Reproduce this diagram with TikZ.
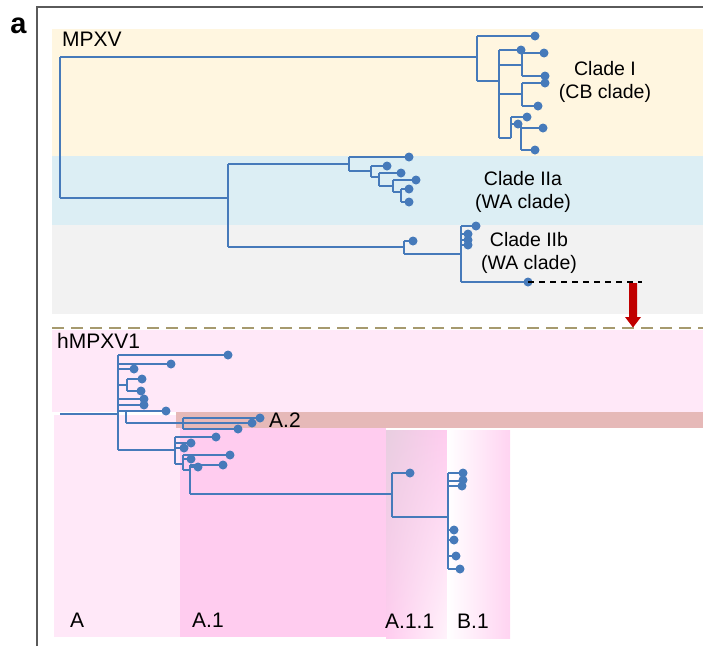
\documentclass[tikz,border=0pt]{standalone}
\usepackage{fontspec}
\setmainfont{Liberation Sans}
\usetikzlibrary{shadings}
\definecolor{treeblue}{RGB}{70,122,186}
\definecolor{creamc}{RGB}{255,246,224}
\definecolor{lbluec}{RGB}{220,238,244}
\definecolor{lgrayc}{RGB}{242,242,242}
\definecolor{pinkAc}{RGB}{255,232,248}
\definecolor{pinkAonec}{RGB}{255,204,239}
\definecolor{atwoc}{RGB}{230,185,184}
\definecolor{grpinkc}{RGB}{232,206,224}
\definecolor{palepinkc}{RGB}{255,243,251}
\definecolor{tanc}{RGB}{166,154,110}
\definecolor{framec}{RGB}{90,90,90}
\definecolor{arrowred}{RGB}{192,0,0}
\newcommand\lf[2]{\fill[treeblue] (#1,#2) circle[radius=4.5];}
\begin{document}
\begin{tikzpicture}[x=1pt,y=-1pt,
  br/.style={draw=treeblue,line width=2.5pt},
  cladelbl/.style={font=\fontsize{19.5}{23}\selectfont,align=center,inner sep=0pt,anchor=base},
  reglbl/.style={font=\fontsize{21}{25}\selectfont,inner sep=0pt,anchor=base west}]
\useasboundingbox (0,0) rectangle (703,646);
% backgrounds
\fill[creamc] (52,29) rectangle (703,156);
\fill[lbluec] (52,156) rectangle (703,225);
\fill[lgrayc] (52,225) rectangle (703,314);
\fill[pinkAc] (52,330) rectangle (703,412);
\fill[pinkAc] (54,414.5) rectangle (180,637);
\fill[atwoc] (176,412) rectangle (703,428);
\fill[pinkAonec] (180,428) rectangle (386,637);
\shade[upper left=grpinkc,upper right=pinkAonec,lower left=pinkAonec,lower right=palepinkc] (386,430) rectangle (447,638);
\shade[left color=white,right color=pinkAonec!85!white] (447,430) rectangle (510,638);
% frame
\draw[framec,line width=1.8pt] (37,646) -- (37,7) -- (703,7);
\node[font=\fontsize{29}{30}\bfseries\selectfont,inner sep=0pt,anchor=base] (lbla) at (18.5,33) {a};
% separator
\draw[tanc,line width=2.2pt,dash pattern=on 12pt off 7pt] (52,328) -- (703,328);
% ---------- MPXV tree ----------
\draw[br] (60,57) -- (60,198);
\draw[br] (60,57) -- (477,57);
\draw[br] (477,36) -- (477,81);
\draw[br] (477,36) -- (535,36); \lf{535}{36}
\draw[br] (477,81) -- (499,81);
\draw[br] (499,50) -- (499,138);
\draw[br] (499,50) -- (521,50); \lf{521}{50}
\draw[br] (499,65) -- (522,65);
\draw[br] (522,50) -- (522,76);
\draw[br] (522,53) -- (544,53); \lf{544}{53}
\draw[br] (522,76) -- (545,76); \lf{545}{76}
\draw[br] (499,94) -- (522,94);
\draw[br] (522,83) -- (522,106);
\draw[br] (522,83) -- (545,83); \lf{545}{83}
\draw[br] (522,106) -- (538,106); \lf{538}{106}
\draw[br] (499,138) -- (511,138);
\draw[br] (511,117) -- (511,138);
\draw[br] (511,117) -- (527,117); \lf{527}{117}
\draw[br] (511,124) -- (521,124); \lf{518}{124}
\draw[br] (521,124) -- (521,150);
\draw[br] (521,128) -- (543,128); \lf{543}{128}
\draw[br] (521,150) -- (535,150); \lf{535}{150}
% clade II
\draw[br] (60,198) -- (228,198);
\draw[br] (228,164) -- (228,247);
\draw[br] (228,164) -- (349,164);
\draw[br] (349,157) -- (349,171);
\draw[br] (349,157) -- (409,157); \lf{409}{157}
\draw[br] (349,171) -- (371,171);
\draw[br] (371,166) -- (371,177);
\draw[br] (371,166) -- (387,166); \lf{387}{166}
\draw[br] (371,177) -- (379,177);
\draw[br] (379,173) -- (379,186);
\draw[br] (379,173) -- (401,173); \lf{401}{173}
\draw[br] (379,186) -- (393,186);
\draw[br] (393,180) -- (393,192);
\draw[br] (393,180) -- (416,180); \lf{416}{180}
\draw[br] (393,192) -- (401,192);
\draw[br] (401,189) -- (401,202);
\draw[br] (401,189) -- (409,189); \lf{409}{189}
\draw[br] (401,202) -- (409,202); \lf{409}{202}
% clade IIb
\draw[br] (228,247) -- (404,247);
\draw[br] (404,241) -- (404,254);
\draw[br] (404,241) -- (413,241); \lf{413}{241}
\draw[br] (404,254) -- (461,254);
\draw[br] (461,226) -- (461,282);
\draw[br] (461,226) -- (476,226); \lf{476}{226}
\draw[br] (461,234) -- (468,234); \lf{468}{234}
\draw[br] (461,240) -- (468,240); \lf{468}{240}
\draw[br] (461,245) -- (468,245); \lf{468}{245}
\draw[br] (461,282) -- (528,282); \lf{528}{282}
\coordinate (dashA) at (528,282);
\coordinate (dashB) at (642,282);
\draw[black,line width=1.6pt,dash pattern=on 6pt off 5pt] (dashA) -- (dashB);
\fill[arrowred] (629,283) -- (637,283) -- (637,317) -- (641,317) -- (633,327.5) -- (625,317) -- (629,317) -- cycle;
% labels
\node[reglbl] (lmpxv) at (62,46.7) {MPXV};
\node[cladelbl] (lcl1) at (605,98) {Clade I\\(CB clade)};
\node[cladelbl] (lcl2a) at (523,208) {Clade IIa\\(WA clade)};
\node[cladelbl] (lcl2b) at (529,269) {Clade IIb\\(WA clade)};
% ---------- hMPXV1 tree ----------
\draw[br] (60,414) -- (118,414);
\draw[br] (118,355) -- (118,450);
\draw[br] (118,355) -- (228,355); \lf{228}{355}
\draw[br] (118,364) -- (171,364); \lf{171}{364}
\draw[br] (118,369) -- (134,369); \lf{134}{369}
\draw[br] (118,385) -- (127,385);
\draw[br] (127,379) -- (127,391);
\draw[br] (127,379) -- (142,379); \lf{142}{379}
\draw[br] (127,391) -- (141,391); \lf{141}{391}
\draw[br] (118,399) -- (144,399); \lf{144}{399}
\draw[br] (118,405) -- (144,405); \lf{144}{405}
\draw[br] (118,411) -- (166,411); \lf{166}{411}
\draw[br] (126,411) -- (126,423);
\draw[br] (126,423) -- (252,423); \lf{252}{423}
\draw[br] (183,418) -- (183,429);
\draw[br] (183,418) -- (260,418); \lf{260}{418}
\draw[br] (183,429) -- (238,429); \lf{238}{429}
\draw[br] (118,450) -- (175,450);
\draw[br] (175,437) -- (175,464);
\draw[br] (175,437) -- (216,437); \lf{216}{437}
\draw[br] (175,443) -- (191,443); \lf{191}{443}
\draw[br] (175,448) -- (184,448); \lf{184}{448}
\draw[br] (175,464) -- (183,464);
\draw[br] (183,455) -- (183,470);
\draw[br] (183,455) -- (230,455); \lf{230}{455}
\draw[br] (183,459) -- (191,459); \lf{191}{459}
\draw[br] (183,470) -- (190,470);
\draw[br] (190,465) -- (190,494);
\draw[br] (190,465) -- (223,465); \lf{223}{465}
\draw[br] (190,467) -- (198,467); \lf{198}{467}
\draw[br] (190,494) -- (392,494);
\draw[br] (392,473) -- (392,517);
\draw[br] (392,473) -- (410,473); \lf{410}{473}
\draw[br] (392,517) -- (448,517);
\draw[br] (448,473) -- (448,569);
\draw[br] (448,473) -- (463,473); \lf{463}{473}
\draw[br] (448,481) -- (463,481); \lf{463}{480}
\draw[br] (448,486) -- (462,486); \lf{462}{486}
\draw[br] (448,530) -- (454,530); \lf{454}{530}
\draw[br] (448,540) -- (454,540); \lf{454}{540}
\draw[br] (448,556) -- (456,556); \lf{456}{556}
\draw[br] (448,569) -- (460,569); \lf{460}{569}
% region labels
\node[reglbl] (lh) at (57,348) {hMPXV1};
\node[reglbl] (la2) at (269,427) {A.2};
\node[reglbl] (lA) at (70,627) {A};
\node[reglbl] (la1) at (192,627) {A.1};
\node[reglbl] (la11) at (385,628) {A.1.1};
\node[reglbl] (lb1) at (457,628) {B.1};
\end{tikzpicture}
\end{document}
